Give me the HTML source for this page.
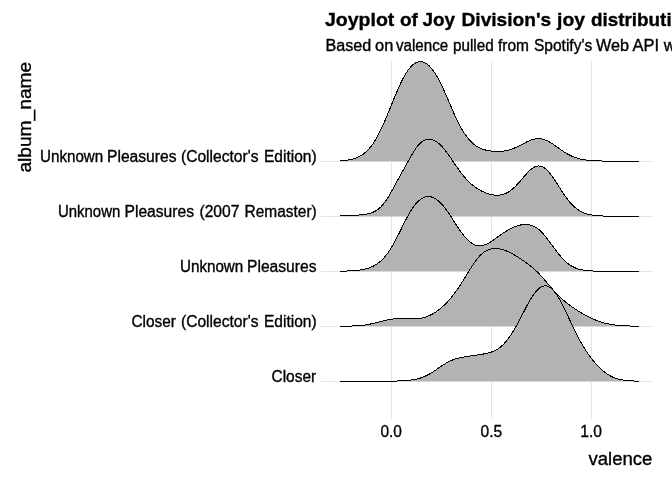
<!DOCTYPE html>
<html><head><meta charset="utf-8"><title>Joyplot</title>
<style>html,body{margin:0;padding:0;background:#fff;overflow:hidden}svg text{white-space:pre}</style></head>
<body>
<svg width="672" height="480" viewBox="0 0 672 480" style="display:block">
<rect width="672" height="480" fill="#fff"/>
<line x1="391.5" x2="391.5" y1="61" y2="418.75" stroke="#e4e4e4" stroke-width="1"/>
<line x1="491.5" x2="491.5" y1="61" y2="418.75" stroke="#e4e4e4" stroke-width="1"/>
<line x1="591.5" x2="591.5" y1="61" y2="418.75" stroke="#e4e4e4" stroke-width="1"/>
<line x1="321" x2="653" y1="161.5" y2="161.5" stroke="#e4e4e4" stroke-width="1"/>
<line x1="321" x2="653" y1="216.5" y2="216.5" stroke="#e4e4e4" stroke-width="1"/>
<line x1="321" x2="653" y1="271.5" y2="271.5" stroke="#e4e4e4" stroke-width="1"/>
<line x1="321" x2="653" y1="326.5" y2="326.5" stroke="#e4e4e4" stroke-width="1"/>
<line x1="321" x2="653" y1="381.5" y2="381.5" stroke="#e4e4e4" stroke-width="1"/>
<polygon points="340.2,161.25 340.2,160.74 341.2,160.68 342.2,160.60 343.2,160.52 344.2,160.43 345.2,160.33 346.2,160.21 347.2,160.08 348.2,159.93 349.2,159.76 350.2,159.57 351.2,159.36 352.2,159.13 353.2,158.86 354.2,158.57 355.2,158.25 356.2,157.89 357.2,157.49 358.2,157.05 359.2,156.57 360.2,156.04 361.2,155.46 362.2,154.82 363.2,154.13 364.2,153.38 365.2,152.56 366.2,151.68 367.2,150.73 368.2,149.71 369.2,148.61 370.2,147.43 371.2,146.18 372.2,144.84 373.2,143.43 374.2,141.93 375.2,140.35 376.2,138.68 377.2,136.94 378.1,135.11 379.1,133.20 380.1,131.22 381.1,129.17 382.1,127.05 383.1,124.86 384.1,122.61 385.1,120.31 386.1,117.97 387.1,115.58 388.1,113.16 389.1,110.71 390.1,108.24 391.1,105.77 392.1,103.29 393.1,100.82 394.1,98.37 395.1,95.95 396.1,93.55 397.1,91.20 398.1,88.90 399.1,86.66 400.1,84.48 401.1,82.37 402.1,80.35 403.1,78.41 404.1,76.56 405.1,74.80 406.1,73.15 407.1,71.60 408.1,70.15 409.1,68.81 410.1,67.59 411.1,66.48 412.1,65.48 413.1,64.60 414.1,63.83 415.1,63.17 416.1,62.63 417.1,62.21 418.1,61.90 419.1,61.70 420.1,61.61 421.1,61.64 422.1,61.78 423.1,62.03 424.1,62.39 425.1,62.86 426.1,63.44 427.1,64.12 428.1,64.92 429.1,65.82 430.1,66.82 431.1,67.94 432.1,69.15 433.1,70.47 434.1,71.88 435.1,73.39 436.1,75.00 437.1,76.69 438.1,78.47 439.1,80.33 440.1,82.27 441.1,84.28 442.1,86.35 443.1,88.48 444.1,90.66 445.1,92.88 446.1,95.14 447.1,97.43 448.1,99.73 449.1,102.04 450.1,104.35 451.1,106.66 452.1,108.95 453.0,111.21 454.0,113.45 455.0,115.64 456.0,117.79 457.0,119.89 458.0,121.93 459.0,123.90 460.0,125.81 461.0,127.64 462.0,129.40 463.0,131.08 464.0,132.68 465.0,134.20 466.0,135.64 467.0,137.00 468.0,138.27 469.0,139.47 470.0,140.59 471.0,141.63 472.0,142.60 473.0,143.49 474.0,144.32 475.0,145.09 476.0,145.79 477.0,146.43 478.0,147.02 479.0,147.56 480.0,148.04 481.0,148.49 482.0,148.89 483.0,149.25 484.0,149.58 485.0,149.87 486.0,150.14 487.0,150.37 488.0,150.58 489.0,150.76 490.0,150.92 491.0,151.06 492.0,151.18 493.0,151.27 494.0,151.35 495.0,151.40 496.0,151.44 497.0,151.45 498.0,151.45 499.0,151.42 500.0,151.37 501.0,151.31 502.0,151.22 503.0,151.10 504.0,150.97 505.0,150.80 506.0,150.62 507.0,150.41 508.0,150.17 509.0,149.90 510.0,149.61 511.0,149.29 512.0,148.95 513.0,148.58 514.0,148.19 515.0,147.77 516.0,147.33 517.0,146.88 518.0,146.40 519.0,145.91 520.0,145.41 521.0,144.89 522.0,144.37 523.0,143.85 524.0,143.34 525.0,142.82 526.0,142.32 526.9,141.83 527.9,141.37 528.9,140.92 529.9,140.50 530.9,140.12 531.9,139.77 532.9,139.47 533.9,139.20 534.9,138.99 535.9,138.82 536.9,138.71 537.9,138.65 538.9,138.65 539.9,138.71 540.9,138.82 541.9,138.99 542.9,139.21 543.9,139.50 544.9,139.83 545.9,140.22 546.9,140.66 547.9,141.14 548.9,141.67 549.9,142.23 550.9,142.83 551.9,143.46 552.9,144.11 553.9,144.79 554.9,145.48 555.9,146.19 556.9,146.90 557.9,147.62 558.9,148.33 559.9,149.05 560.9,149.75 561.9,150.44 562.9,151.12 563.9,151.78 564.9,152.42 565.9,153.04 566.9,153.63 567.9,154.20 568.9,154.74 569.9,155.25 570.9,155.74 571.9,156.20 572.9,156.63 573.9,157.03 574.9,157.40 575.9,157.75 576.9,158.08 577.9,158.37 578.9,158.65 579.9,158.90 580.9,159.13 581.9,159.34 582.9,159.53 583.9,159.70 584.9,159.85 585.9,160.00 586.9,160.12 587.9,160.24 588.9,160.34 589.9,160.43 590.9,160.51 591.9,160.59 592.9,160.65 593.9,160.71 594.9,160.76 595.9,160.81 596.9,160.85 597.9,160.88 598.9,160.92 599.9,160.95 600.9,160.97 601.8,161.00 602.8,161.02 603.8,161.04 604.8,161.05 605.8,161.07 606.8,161.08 607.8,161.09 608.8,161.11 609.8,161.12 610.8,161.13 611.8,161.14 612.8,161.14 613.8,161.15 614.8,161.16 615.8,161.16 616.8,161.17 617.8,161.18 618.8,161.18 619.8,161.19 620.8,161.19 621.8,161.19 622.8,161.20 623.8,161.20 624.8,161.20 625.8,161.21 626.8,161.21 627.8,161.21 628.8,161.22 629.8,161.22 630.8,161.22 631.8,161.22 632.8,161.22 633.8,161.23 634.8,161.23 635.8,161.23 636.8,161.23 637.8,161.23 638.8,161.23 638.8,161.25" fill="#b3b3b3"/>
<polyline points="340.2,160.74 341.2,160.68 342.2,160.60 343.2,160.52 344.2,160.43 345.2,160.33 346.2,160.21 347.2,160.08 348.2,159.93 349.2,159.76 350.2,159.57 351.2,159.36 352.2,159.13 353.2,158.86 354.2,158.57 355.2,158.25 356.2,157.89 357.2,157.49 358.2,157.05 359.2,156.57 360.2,156.04 361.2,155.46 362.2,154.82 363.2,154.13 364.2,153.38 365.2,152.56 366.2,151.68 367.2,150.73 368.2,149.71 369.2,148.61 370.2,147.43 371.2,146.18 372.2,144.84 373.2,143.43 374.2,141.93 375.2,140.35 376.2,138.68 377.2,136.94 378.1,135.11 379.1,133.20 380.1,131.22 381.1,129.17 382.1,127.05 383.1,124.86 384.1,122.61 385.1,120.31 386.1,117.97 387.1,115.58 388.1,113.16 389.1,110.71 390.1,108.24 391.1,105.77 392.1,103.29 393.1,100.82 394.1,98.37 395.1,95.95 396.1,93.55 397.1,91.20 398.1,88.90 399.1,86.66 400.1,84.48 401.1,82.37 402.1,80.35 403.1,78.41 404.1,76.56 405.1,74.80 406.1,73.15 407.1,71.60 408.1,70.15 409.1,68.81 410.1,67.59 411.1,66.48 412.1,65.48 413.1,64.60 414.1,63.83 415.1,63.17 416.1,62.63 417.1,62.21 418.1,61.90 419.1,61.70 420.1,61.61 421.1,61.64 422.1,61.78 423.1,62.03 424.1,62.39 425.1,62.86 426.1,63.44 427.1,64.12 428.1,64.92 429.1,65.82 430.1,66.82 431.1,67.94 432.1,69.15 433.1,70.47 434.1,71.88 435.1,73.39 436.1,75.00 437.1,76.69 438.1,78.47 439.1,80.33 440.1,82.27 441.1,84.28 442.1,86.35 443.1,88.48 444.1,90.66 445.1,92.88 446.1,95.14 447.1,97.43 448.1,99.73 449.1,102.04 450.1,104.35 451.1,106.66 452.1,108.95 453.0,111.21 454.0,113.45 455.0,115.64 456.0,117.79 457.0,119.89 458.0,121.93 459.0,123.90 460.0,125.81 461.0,127.64 462.0,129.40 463.0,131.08 464.0,132.68 465.0,134.20 466.0,135.64 467.0,137.00 468.0,138.27 469.0,139.47 470.0,140.59 471.0,141.63 472.0,142.60 473.0,143.49 474.0,144.32 475.0,145.09 476.0,145.79 477.0,146.43 478.0,147.02 479.0,147.56 480.0,148.04 481.0,148.49 482.0,148.89 483.0,149.25 484.0,149.58 485.0,149.87 486.0,150.14 487.0,150.37 488.0,150.58 489.0,150.76 490.0,150.92 491.0,151.06 492.0,151.18 493.0,151.27 494.0,151.35 495.0,151.40 496.0,151.44 497.0,151.45 498.0,151.45 499.0,151.42 500.0,151.37 501.0,151.31 502.0,151.22 503.0,151.10 504.0,150.97 505.0,150.80 506.0,150.62 507.0,150.41 508.0,150.17 509.0,149.90 510.0,149.61 511.0,149.29 512.0,148.95 513.0,148.58 514.0,148.19 515.0,147.77 516.0,147.33 517.0,146.88 518.0,146.40 519.0,145.91 520.0,145.41 521.0,144.89 522.0,144.37 523.0,143.85 524.0,143.34 525.0,142.82 526.0,142.32 526.9,141.83 527.9,141.37 528.9,140.92 529.9,140.50 530.9,140.12 531.9,139.77 532.9,139.47 533.9,139.20 534.9,138.99 535.9,138.82 536.9,138.71 537.9,138.65 538.9,138.65 539.9,138.71 540.9,138.82 541.9,138.99 542.9,139.21 543.9,139.50 544.9,139.83 545.9,140.22 546.9,140.66 547.9,141.14 548.9,141.67 549.9,142.23 550.9,142.83 551.9,143.46 552.9,144.11 553.9,144.79 554.9,145.48 555.9,146.19 556.9,146.90 557.9,147.62 558.9,148.33 559.9,149.05 560.9,149.75 561.9,150.44 562.9,151.12 563.9,151.78 564.9,152.42 565.9,153.04 566.9,153.63 567.9,154.20 568.9,154.74 569.9,155.25 570.9,155.74 571.9,156.20 572.9,156.63 573.9,157.03 574.9,157.40 575.9,157.75 576.9,158.08 577.9,158.37 578.9,158.65 579.9,158.90 580.9,159.13 581.9,159.34 582.9,159.53 583.9,159.70 584.9,159.85 585.9,160.00 586.9,160.12 587.9,160.24 588.9,160.34 589.9,160.43 590.9,160.51 591.9,160.59 592.9,160.65 593.9,160.71 594.9,160.76 595.9,160.81 596.9,160.85 597.9,160.88 598.9,160.92 599.9,160.95 600.9,160.97 601.8,161.00 602.8,161.02 603.8,161.04 604.8,161.05 605.8,161.07 606.8,161.08 607.8,161.09 608.8,161.11 609.8,161.12 610.8,161.13 611.8,161.14 612.8,161.14 613.8,161.15 614.8,161.16 615.8,161.16 616.8,161.17 617.8,161.18 618.8,161.18 619.8,161.19 620.8,161.19 621.8,161.19 622.8,161.20 623.8,161.20 624.8,161.20 625.8,161.21 626.8,161.21 627.8,161.21 628.8,161.22 629.8,161.22 630.8,161.22 631.8,161.22 632.8,161.22 633.8,161.23 634.8,161.23 635.8,161.23 636.8,161.23 637.8,161.23 638.8,161.23" fill="none" stroke="#000" stroke-width="1" stroke-linejoin="round" shape-rendering="crispEdges"/>
<polygon points="340.2,216.25 340.2,215.92 341.2,215.90 342.2,215.87 343.2,215.84 344.2,215.81 345.2,215.78 346.2,215.75 347.2,215.71 348.2,215.67 349.2,215.63 350.2,215.59 351.2,215.54 352.2,215.49 353.2,215.43 354.2,215.37 355.2,215.31 356.2,215.24 357.2,215.16 358.2,215.08 359.2,214.99 360.2,214.89 361.2,214.79 362.2,214.67 363.2,214.55 364.2,214.41 365.2,214.25 366.2,214.08 367.2,213.89 368.2,213.67 369.2,213.43 370.2,213.16 371.2,212.86 372.2,212.51 373.2,212.12 374.2,211.68 375.2,211.18 376.2,210.62 377.2,209.98 378.1,209.28 379.1,208.49 380.1,207.61 381.1,206.64 382.1,205.58 383.1,204.42 384.1,203.17 385.1,201.83 386.1,200.39 387.1,198.88 388.1,197.28 389.1,195.62 390.1,193.91 391.1,192.15 392.1,190.35 393.1,188.53 394.1,186.70 395.1,184.86 396.1,183.02 397.1,181.18 398.1,179.36 399.1,177.54 400.1,175.74 401.1,173.94 402.1,172.15 403.1,170.36 404.1,168.57 405.1,166.78 406.1,164.98 407.1,163.18 408.1,161.38 409.1,159.59 410.1,157.81 411.1,156.06 412.1,154.34 413.1,152.67 414.1,151.07 415.1,149.53 416.1,148.08 417.1,146.73 418.1,145.48 419.1,144.34 420.1,143.31 421.1,142.41 422.1,141.63 423.1,140.96 424.1,140.41 425.1,139.98 426.1,139.65 427.1,139.43 428.1,139.30 429.1,139.28 430.1,139.34 431.1,139.50 432.1,139.74 433.1,140.07 434.1,140.49 435.1,140.98 436.1,141.56 437.1,142.22 438.1,142.97 439.1,143.78 440.1,144.68 441.1,145.65 442.1,146.69 443.1,147.80 444.1,148.98 445.1,150.21 446.1,151.49 447.1,152.82 448.1,154.19 449.1,155.59 450.1,157.02 451.1,158.47 452.1,159.94 453.0,161.41 454.0,162.88 455.0,164.35 456.0,165.80 457.0,167.24 458.0,168.66 459.0,170.05 460.0,171.41 461.0,172.74 462.0,174.03 463.0,175.29 464.0,176.50 465.0,177.67 466.0,178.80 467.0,179.89 468.0,180.93 469.0,181.92 470.0,182.87 471.0,183.78 472.0,184.65 473.0,185.47 474.0,186.26 475.0,187.00 476.0,187.71 477.0,188.38 478.0,189.02 479.0,189.62 480.0,190.19 481.0,190.72 482.0,191.23 483.0,191.71 484.0,192.16 485.0,192.58 486.0,192.97 487.0,193.33 488.0,193.66 489.0,193.96 490.0,194.24 491.0,194.48 492.0,194.69 493.0,194.87 494.0,195.02 495.0,195.12 496.0,195.19 497.0,195.22 498.0,195.21 499.0,195.15 500.0,195.04 501.0,194.89 502.0,194.68 503.0,194.42 504.0,194.11 505.0,193.73 506.0,193.30 507.0,192.81 508.0,192.26 509.0,191.65 510.0,190.97 511.0,190.24 512.0,189.45 513.0,188.60 514.0,187.69 515.0,186.74 516.0,185.73 517.0,184.69 518.0,183.60 519.0,182.48 520.0,181.34 521.0,180.18 522.0,179.01 523.0,177.83 524.0,176.66 525.0,175.51 526.0,174.38 526.9,173.29 527.9,172.23 528.9,171.23 529.9,170.30 530.9,169.43 531.9,168.64 532.9,167.94 533.9,167.34 534.9,166.84 535.9,166.45 536.9,166.17 537.9,166.00 538.9,165.96 539.9,166.05 540.9,166.25 541.9,166.58 542.9,167.04 543.9,167.61 544.9,168.30 545.9,169.11 546.9,170.02 547.9,171.04 548.9,172.14 549.9,173.34 550.9,174.62 551.9,175.96 552.9,177.37 553.9,178.83 554.9,180.33 555.9,181.87 556.9,183.42 557.9,185.00 558.9,186.57 559.9,188.15 560.9,189.71 561.9,191.26 562.9,192.78 563.9,194.26 564.9,195.71 565.9,197.11 566.9,198.47 567.9,199.78 568.9,201.03 569.9,202.22 570.9,203.35 571.9,204.42 572.9,205.44 573.9,206.39 574.9,207.28 575.9,208.11 576.9,208.89 577.9,209.60 578.9,210.27 579.9,210.88 580.9,211.44 581.9,211.95 582.9,212.41 583.9,212.84 584.9,213.22 585.9,213.57 586.9,213.88 587.9,214.16 588.9,214.41 589.9,214.64 590.9,214.83 591.9,215.01 592.9,215.17 593.9,215.31 594.9,215.43 595.9,215.54 596.9,215.63 597.9,215.71 598.9,215.78 599.9,215.84 600.9,215.90 601.8,215.95 602.8,215.99 603.8,216.02 604.8,216.05 605.8,216.08 606.8,216.10 607.8,216.12 608.8,216.14 609.8,216.15 610.8,216.16 611.8,216.17 612.8,216.18 613.8,216.19 614.8,216.20 615.8,216.21 616.8,216.21 617.8,216.21 618.8,216.22 619.8,216.22 620.8,216.23 621.8,216.23 622.8,216.23 623.8,216.23 624.8,216.23 625.8,216.24 626.8,216.24 627.8,216.24 628.8,216.24 629.8,216.24 630.8,216.24 631.8,216.24 632.8,216.24 633.8,216.24 634.8,216.24 635.8,216.24 636.8,216.25 637.8,216.25 638.8,216.25 638.8,216.25" fill="#b3b3b3"/>
<polyline points="340.2,215.92 341.2,215.90 342.2,215.87 343.2,215.84 344.2,215.81 345.2,215.78 346.2,215.75 347.2,215.71 348.2,215.67 349.2,215.63 350.2,215.59 351.2,215.54 352.2,215.49 353.2,215.43 354.2,215.37 355.2,215.31 356.2,215.24 357.2,215.16 358.2,215.08 359.2,214.99 360.2,214.89 361.2,214.79 362.2,214.67 363.2,214.55 364.2,214.41 365.2,214.25 366.2,214.08 367.2,213.89 368.2,213.67 369.2,213.43 370.2,213.16 371.2,212.86 372.2,212.51 373.2,212.12 374.2,211.68 375.2,211.18 376.2,210.62 377.2,209.98 378.1,209.28 379.1,208.49 380.1,207.61 381.1,206.64 382.1,205.58 383.1,204.42 384.1,203.17 385.1,201.83 386.1,200.39 387.1,198.88 388.1,197.28 389.1,195.62 390.1,193.91 391.1,192.15 392.1,190.35 393.1,188.53 394.1,186.70 395.1,184.86 396.1,183.02 397.1,181.18 398.1,179.36 399.1,177.54 400.1,175.74 401.1,173.94 402.1,172.15 403.1,170.36 404.1,168.57 405.1,166.78 406.1,164.98 407.1,163.18 408.1,161.38 409.1,159.59 410.1,157.81 411.1,156.06 412.1,154.34 413.1,152.67 414.1,151.07 415.1,149.53 416.1,148.08 417.1,146.73 418.1,145.48 419.1,144.34 420.1,143.31 421.1,142.41 422.1,141.63 423.1,140.96 424.1,140.41 425.1,139.98 426.1,139.65 427.1,139.43 428.1,139.30 429.1,139.28 430.1,139.34 431.1,139.50 432.1,139.74 433.1,140.07 434.1,140.49 435.1,140.98 436.1,141.56 437.1,142.22 438.1,142.97 439.1,143.78 440.1,144.68 441.1,145.65 442.1,146.69 443.1,147.80 444.1,148.98 445.1,150.21 446.1,151.49 447.1,152.82 448.1,154.19 449.1,155.59 450.1,157.02 451.1,158.47 452.1,159.94 453.0,161.41 454.0,162.88 455.0,164.35 456.0,165.80 457.0,167.24 458.0,168.66 459.0,170.05 460.0,171.41 461.0,172.74 462.0,174.03 463.0,175.29 464.0,176.50 465.0,177.67 466.0,178.80 467.0,179.89 468.0,180.93 469.0,181.92 470.0,182.87 471.0,183.78 472.0,184.65 473.0,185.47 474.0,186.26 475.0,187.00 476.0,187.71 477.0,188.38 478.0,189.02 479.0,189.62 480.0,190.19 481.0,190.72 482.0,191.23 483.0,191.71 484.0,192.16 485.0,192.58 486.0,192.97 487.0,193.33 488.0,193.66 489.0,193.96 490.0,194.24 491.0,194.48 492.0,194.69 493.0,194.87 494.0,195.02 495.0,195.12 496.0,195.19 497.0,195.22 498.0,195.21 499.0,195.15 500.0,195.04 501.0,194.89 502.0,194.68 503.0,194.42 504.0,194.11 505.0,193.73 506.0,193.30 507.0,192.81 508.0,192.26 509.0,191.65 510.0,190.97 511.0,190.24 512.0,189.45 513.0,188.60 514.0,187.69 515.0,186.74 516.0,185.73 517.0,184.69 518.0,183.60 519.0,182.48 520.0,181.34 521.0,180.18 522.0,179.01 523.0,177.83 524.0,176.66 525.0,175.51 526.0,174.38 526.9,173.29 527.9,172.23 528.9,171.23 529.9,170.30 530.9,169.43 531.9,168.64 532.9,167.94 533.9,167.34 534.9,166.84 535.9,166.45 536.9,166.17 537.9,166.00 538.9,165.96 539.9,166.05 540.9,166.25 541.9,166.58 542.9,167.04 543.9,167.61 544.9,168.30 545.9,169.11 546.9,170.02 547.9,171.04 548.9,172.14 549.9,173.34 550.9,174.62 551.9,175.96 552.9,177.37 553.9,178.83 554.9,180.33 555.9,181.87 556.9,183.42 557.9,185.00 558.9,186.57 559.9,188.15 560.9,189.71 561.9,191.26 562.9,192.78 563.9,194.26 564.9,195.71 565.9,197.11 566.9,198.47 567.9,199.78 568.9,201.03 569.9,202.22 570.9,203.35 571.9,204.42 572.9,205.44 573.9,206.39 574.9,207.28 575.9,208.11 576.9,208.89 577.9,209.60 578.9,210.27 579.9,210.88 580.9,211.44 581.9,211.95 582.9,212.41 583.9,212.84 584.9,213.22 585.9,213.57 586.9,213.88 587.9,214.16 588.9,214.41 589.9,214.64 590.9,214.83 591.9,215.01 592.9,215.17 593.9,215.31 594.9,215.43 595.9,215.54 596.9,215.63 597.9,215.71 598.9,215.78 599.9,215.84 600.9,215.90 601.8,215.95 602.8,215.99 603.8,216.02 604.8,216.05 605.8,216.08 606.8,216.10 607.8,216.12 608.8,216.14 609.8,216.15 610.8,216.16 611.8,216.17 612.8,216.18 613.8,216.19 614.8,216.20 615.8,216.21 616.8,216.21 617.8,216.21 618.8,216.22 619.8,216.22 620.8,216.23 621.8,216.23 622.8,216.23 623.8,216.23 624.8,216.23 625.8,216.24 626.8,216.24 627.8,216.24 628.8,216.24 629.8,216.24 630.8,216.24 631.8,216.24 632.8,216.24 633.8,216.24 634.8,216.24 635.8,216.24 636.8,216.25 637.8,216.25 638.8,216.25" fill="none" stroke="#000" stroke-width="1" stroke-linejoin="round" shape-rendering="crispEdges"/>
<polygon points="340.2,271.25 340.2,271.15 341.2,271.13 342.2,271.11 343.2,271.09 344.2,271.07 345.2,271.04 346.2,271.02 347.2,270.98 348.2,270.94 349.2,270.90 350.2,270.85 351.2,270.80 352.2,270.74 353.2,270.67 354.2,270.60 355.2,270.52 356.2,270.42 357.2,270.32 358.2,270.20 359.2,270.08 360.2,269.93 361.2,269.78 362.2,269.61 363.2,269.42 364.2,269.21 365.2,268.98 366.2,268.72 367.2,268.45 368.2,268.14 369.2,267.81 370.2,267.45 371.2,267.05 372.2,266.62 373.2,266.15 374.2,265.63 375.2,265.08 376.2,264.48 377.2,263.82 378.1,263.12 379.1,262.36 380.1,261.54 381.1,260.65 382.1,259.71 383.1,258.69 384.1,257.61 385.1,256.46 386.1,255.23 387.1,253.93 388.1,252.56 389.1,251.12 390.1,249.60 391.1,248.01 392.1,246.35 393.1,244.63 394.1,242.84 395.1,241.01 396.1,239.12 397.1,237.19 398.1,235.22 399.1,233.22 400.1,231.21 401.1,229.19 402.1,227.16 403.1,225.15 404.1,223.15 405.1,221.18 406.1,219.25 407.1,217.36 408.1,215.53 409.1,213.76 410.1,212.06 411.1,210.43 412.1,208.88 413.1,207.41 414.1,206.04 415.1,204.75 416.1,203.56 417.1,202.46 418.1,201.45 419.1,200.54 420.1,199.73 421.1,199.01 422.1,198.39 423.1,197.86 424.1,197.42 425.1,197.07 426.1,196.82 427.1,196.66 428.1,196.58 429.1,196.60 430.1,196.70 431.1,196.89 432.1,197.17 433.1,197.54 434.1,197.99 435.1,198.52 436.1,199.14 437.1,199.84 438.1,200.63 439.1,201.49 440.1,202.43 441.1,203.44 442.1,204.52 443.1,205.68 444.1,206.89 445.1,208.16 446.1,209.49 447.1,210.86 448.1,212.28 449.1,213.74 450.1,215.23 451.1,216.74 452.1,218.27 453.0,219.82 454.0,221.37 455.0,222.92 456.0,224.46 457.0,225.99 458.0,227.50 459.0,228.98 460.0,230.43 461.0,231.83 462.0,233.20 463.0,234.51 464.0,235.77 465.0,236.97 466.0,238.11 467.0,239.17 468.0,240.17 469.0,241.09 470.0,241.93 471.0,242.69 472.0,243.37 473.0,243.96 474.0,244.48 475.0,244.90 476.0,245.25 477.0,245.51 478.0,245.68 479.0,245.78 480.0,245.80 481.0,245.73 482.0,245.60 483.0,245.39 484.0,245.12 485.0,244.79 486.0,244.39 487.0,243.94 488.0,243.44 489.0,242.90 490.0,242.31 491.0,241.69 492.0,241.04 493.0,240.36 494.0,239.66 495.0,238.95 496.0,238.22 497.0,237.49 498.0,236.76 499.0,236.03 500.0,235.30 501.0,234.58 502.0,233.88 503.0,233.19 504.0,232.52 505.0,231.87 506.0,231.23 507.0,230.63 508.0,230.04 509.0,229.48 510.0,228.94 511.0,228.44 512.0,227.95 513.0,227.50 514.0,227.07 515.0,226.67 516.0,226.30 517.0,225.96 518.0,225.65 519.0,225.36 520.0,225.12 521.0,224.90 522.0,224.72 523.0,224.58 524.0,224.48 525.0,224.42 526.0,224.41 526.9,224.45 527.9,224.53 528.9,224.68 529.9,224.88 530.9,225.14 531.9,225.46 532.9,225.85 533.9,226.30 534.9,226.82 535.9,227.42 536.9,228.08 537.9,228.82 538.9,229.62 539.9,230.50 540.9,231.44 541.9,232.44 542.9,233.51 543.9,234.63 544.9,235.80 545.9,237.02 546.9,238.28 547.9,239.58 548.9,240.91 549.9,242.26 550.9,243.62 551.9,245.00 552.9,246.37 553.9,247.74 554.9,249.10 555.9,250.44 556.9,251.76 557.9,253.05 558.9,254.30 559.9,255.52 560.9,256.69 561.9,257.82 562.9,258.90 563.9,259.93 564.9,260.90 565.9,261.82 566.9,262.69 567.9,263.50 568.9,264.26 569.9,264.96 570.9,265.61 571.9,266.21 572.9,266.76 573.9,267.27 574.9,267.72 575.9,268.14 576.9,268.52 577.9,268.85 578.9,269.16 579.9,269.43 580.9,269.67 581.9,269.88 582.9,270.07 583.9,270.24 584.9,270.38 585.9,270.51 586.9,270.62 587.9,270.72 588.9,270.80 589.9,270.87 590.9,270.93 591.9,270.98 592.9,271.03 593.9,271.07 594.9,271.10 595.9,271.12 596.9,271.15 597.9,271.16 598.9,271.18 599.9,271.19 600.9,271.20 601.8,271.21 602.8,271.22 603.8,271.23 604.8,271.23 605.8,271.23 606.8,271.24 607.8,271.24 608.8,271.24 609.8,271.24 610.8,271.25 611.8,271.25 612.8,271.25 613.8,271.25 614.8,271.25 615.8,271.25 616.8,271.25 617.8,271.25 618.8,271.25 619.8,271.25 620.8,271.25 621.8,271.25 622.8,271.25 623.8,271.25 624.8,271.25 625.8,271.25 626.8,271.25 627.8,271.25 628.8,271.25 629.8,271.25 630.8,271.25 631.8,271.25 632.8,271.25 633.8,271.25 634.8,271.25 635.8,271.25 636.8,271.25 637.8,271.25 638.8,271.25 638.8,271.25" fill="#b3b3b3"/>
<polyline points="340.2,271.15 341.2,271.13 342.2,271.11 343.2,271.09 344.2,271.07 345.2,271.04 346.2,271.02 347.2,270.98 348.2,270.94 349.2,270.90 350.2,270.85 351.2,270.80 352.2,270.74 353.2,270.67 354.2,270.60 355.2,270.52 356.2,270.42 357.2,270.32 358.2,270.20 359.2,270.08 360.2,269.93 361.2,269.78 362.2,269.61 363.2,269.42 364.2,269.21 365.2,268.98 366.2,268.72 367.2,268.45 368.2,268.14 369.2,267.81 370.2,267.45 371.2,267.05 372.2,266.62 373.2,266.15 374.2,265.63 375.2,265.08 376.2,264.48 377.2,263.82 378.1,263.12 379.1,262.36 380.1,261.54 381.1,260.65 382.1,259.71 383.1,258.69 384.1,257.61 385.1,256.46 386.1,255.23 387.1,253.93 388.1,252.56 389.1,251.12 390.1,249.60 391.1,248.01 392.1,246.35 393.1,244.63 394.1,242.84 395.1,241.01 396.1,239.12 397.1,237.19 398.1,235.22 399.1,233.22 400.1,231.21 401.1,229.19 402.1,227.16 403.1,225.15 404.1,223.15 405.1,221.18 406.1,219.25 407.1,217.36 408.1,215.53 409.1,213.76 410.1,212.06 411.1,210.43 412.1,208.88 413.1,207.41 414.1,206.04 415.1,204.75 416.1,203.56 417.1,202.46 418.1,201.45 419.1,200.54 420.1,199.73 421.1,199.01 422.1,198.39 423.1,197.86 424.1,197.42 425.1,197.07 426.1,196.82 427.1,196.66 428.1,196.58 429.1,196.60 430.1,196.70 431.1,196.89 432.1,197.17 433.1,197.54 434.1,197.99 435.1,198.52 436.1,199.14 437.1,199.84 438.1,200.63 439.1,201.49 440.1,202.43 441.1,203.44 442.1,204.52 443.1,205.68 444.1,206.89 445.1,208.16 446.1,209.49 447.1,210.86 448.1,212.28 449.1,213.74 450.1,215.23 451.1,216.74 452.1,218.27 453.0,219.82 454.0,221.37 455.0,222.92 456.0,224.46 457.0,225.99 458.0,227.50 459.0,228.98 460.0,230.43 461.0,231.83 462.0,233.20 463.0,234.51 464.0,235.77 465.0,236.97 466.0,238.11 467.0,239.17 468.0,240.17 469.0,241.09 470.0,241.93 471.0,242.69 472.0,243.37 473.0,243.96 474.0,244.48 475.0,244.90 476.0,245.25 477.0,245.51 478.0,245.68 479.0,245.78 480.0,245.80 481.0,245.73 482.0,245.60 483.0,245.39 484.0,245.12 485.0,244.79 486.0,244.39 487.0,243.94 488.0,243.44 489.0,242.90 490.0,242.31 491.0,241.69 492.0,241.04 493.0,240.36 494.0,239.66 495.0,238.95 496.0,238.22 497.0,237.49 498.0,236.76 499.0,236.03 500.0,235.30 501.0,234.58 502.0,233.88 503.0,233.19 504.0,232.52 505.0,231.87 506.0,231.23 507.0,230.63 508.0,230.04 509.0,229.48 510.0,228.94 511.0,228.44 512.0,227.95 513.0,227.50 514.0,227.07 515.0,226.67 516.0,226.30 517.0,225.96 518.0,225.65 519.0,225.36 520.0,225.12 521.0,224.90 522.0,224.72 523.0,224.58 524.0,224.48 525.0,224.42 526.0,224.41 526.9,224.45 527.9,224.53 528.9,224.68 529.9,224.88 530.9,225.14 531.9,225.46 532.9,225.85 533.9,226.30 534.9,226.82 535.9,227.42 536.9,228.08 537.9,228.82 538.9,229.62 539.9,230.50 540.9,231.44 541.9,232.44 542.9,233.51 543.9,234.63 544.9,235.80 545.9,237.02 546.9,238.28 547.9,239.58 548.9,240.91 549.9,242.26 550.9,243.62 551.9,245.00 552.9,246.37 553.9,247.74 554.9,249.10 555.9,250.44 556.9,251.76 557.9,253.05 558.9,254.30 559.9,255.52 560.9,256.69 561.9,257.82 562.9,258.90 563.9,259.93 564.9,260.90 565.9,261.82 566.9,262.69 567.9,263.50 568.9,264.26 569.9,264.96 570.9,265.61 571.9,266.21 572.9,266.76 573.9,267.27 574.9,267.72 575.9,268.14 576.9,268.52 577.9,268.85 578.9,269.16 579.9,269.43 580.9,269.67 581.9,269.88 582.9,270.07 583.9,270.24 584.9,270.38 585.9,270.51 586.9,270.62 587.9,270.72 588.9,270.80 589.9,270.87 590.9,270.93 591.9,270.98 592.9,271.03 593.9,271.07 594.9,271.10 595.9,271.12 596.9,271.15 597.9,271.16 598.9,271.18 599.9,271.19 600.9,271.20 601.8,271.21 602.8,271.22 603.8,271.23 604.8,271.23 605.8,271.23 606.8,271.24 607.8,271.24 608.8,271.24 609.8,271.24 610.8,271.25 611.8,271.25 612.8,271.25 613.8,271.25 614.8,271.25 615.8,271.25 616.8,271.25 617.8,271.25 618.8,271.25 619.8,271.25 620.8,271.25 621.8,271.25 622.8,271.25 623.8,271.25 624.8,271.25 625.8,271.25 626.8,271.25 627.8,271.25 628.8,271.25 629.8,271.25 630.8,271.25 631.8,271.25 632.8,271.25 633.8,271.25 634.8,271.25 635.8,271.25 636.8,271.25 637.8,271.25 638.8,271.25" fill="none" stroke="#000" stroke-width="1" stroke-linejoin="round" shape-rendering="crispEdges"/>
<polygon points="340.2,326.25 340.2,326.22 341.2,326.21 342.2,326.20 343.2,326.20 344.2,326.18 345.2,326.17 346.2,326.16 347.2,326.14 348.2,326.12 349.2,326.10 350.2,326.07 351.2,326.04 352.2,326.01 353.2,325.97 354.2,325.92 355.2,325.87 356.2,325.81 357.2,325.75 358.2,325.68 359.2,325.60 360.2,325.51 361.2,325.41 362.2,325.30 363.2,325.19 364.2,325.06 365.2,324.92 366.2,324.77 367.2,324.61 368.2,324.44 369.2,324.26 370.2,324.07 371.2,323.87 372.2,323.65 373.2,323.43 374.2,323.20 375.2,322.96 376.2,322.72 377.2,322.47 378.1,322.21 379.1,321.96 380.1,321.70 381.1,321.44 382.1,321.18 383.1,320.93 384.1,320.68 385.1,320.45 386.1,320.22 387.1,320.00 388.1,319.79 389.1,319.59 390.1,319.41 391.1,319.25 392.1,319.10 393.1,318.98 394.1,318.86 395.1,318.77 396.1,318.69 397.1,318.64 398.1,318.59 399.1,318.57 400.1,318.56 401.1,318.56 402.1,318.57 403.1,318.60 404.1,318.63 405.1,318.67 406.1,318.71 407.1,318.75 408.1,318.80 409.1,318.84 410.1,318.87 411.1,318.89 412.1,318.91 413.1,318.91 414.1,318.89 415.1,318.86 416.1,318.81 417.1,318.74 418.1,318.64 419.1,318.52 420.1,318.37 421.1,318.20 422.1,317.99 423.1,317.76 424.1,317.49 425.1,317.20 426.1,316.87 427.1,316.51 428.1,316.11 429.1,315.69 430.1,315.23 431.1,314.73 432.1,314.20 433.1,313.64 434.1,313.05 435.1,312.42 436.1,311.76 437.1,311.06 438.1,310.33 439.1,309.57 440.1,308.77 441.1,307.94 442.1,307.07 443.1,306.17 444.1,305.24 445.1,304.27 446.1,303.27 447.1,302.23 448.1,301.16 449.1,300.04 450.1,298.90 451.1,297.71 452.1,296.49 453.0,295.23 454.0,293.94 455.0,292.61 456.0,291.24 457.0,289.83 458.0,288.39 459.0,286.91 460.0,285.40 461.0,283.87 462.0,282.30 463.0,280.72 464.0,279.11 465.0,277.49 466.0,275.86 467.0,274.23 468.0,272.60 469.0,270.98 470.0,269.37 471.0,267.79 472.0,266.24 473.0,264.72 474.0,263.25 475.0,261.84 476.0,260.47 477.0,259.18 478.0,257.94 479.0,256.79 480.0,255.70 481.0,254.70 482.0,253.77 483.0,252.93 484.0,252.17 485.0,251.49 486.0,250.88 487.0,250.36 488.0,249.91 489.0,249.53 490.0,249.21 491.0,248.96 492.0,248.78 493.0,248.65 494.0,248.57 495.0,248.54 496.0,248.56 497.0,248.62 498.0,248.73 499.0,248.87 500.0,249.05 501.0,249.27 502.0,249.52 503.0,249.80 504.0,250.12 505.0,250.46 506.0,250.83 507.0,251.24 508.0,251.67 509.0,252.13 510.0,252.61 511.0,253.11 512.0,253.64 513.0,254.19 514.0,254.76 515.0,255.34 516.0,255.94 517.0,256.56 518.0,257.19 519.0,257.83 520.0,258.48 521.0,259.13 522.0,259.80 523.0,260.48 524.0,261.16 525.0,261.86 526.0,262.56 526.9,263.28 527.9,264.01 528.9,264.76 529.9,265.53 530.9,266.32 531.9,267.13 532.9,267.96 533.9,268.83 534.9,269.72 535.9,270.64 536.9,271.59 537.9,272.58 538.9,273.59 539.9,274.64 540.9,275.72 541.9,276.82 542.9,277.94 543.9,279.09 544.9,280.25 545.9,281.43 546.9,282.61 547.9,283.80 548.9,284.99 549.9,286.17 550.9,287.35 551.9,288.51 552.9,289.65 553.9,290.78 554.9,291.88 555.9,292.96 556.9,294.01 557.9,295.04 558.9,296.03 559.9,297.00 560.9,297.94 561.9,298.86 562.9,299.74 563.9,300.60 564.9,301.44 565.9,302.25 566.9,303.05 567.9,303.82 568.9,304.58 569.9,305.31 570.9,306.04 571.9,306.75 572.9,307.44 573.9,308.12 574.9,308.80 575.9,309.46 576.9,310.11 577.9,310.74 578.9,311.37 579.9,311.99 580.9,312.60 581.9,313.20 582.9,313.78 583.9,314.36 584.9,314.92 585.9,315.47 586.9,316.01 587.9,316.53 588.9,317.04 589.9,317.54 590.9,318.02 591.9,318.49 592.9,318.94 593.9,319.37 594.9,319.79 595.9,320.20 596.9,320.59 597.9,320.96 598.9,321.31 599.9,321.65 600.9,321.97 601.8,322.28 602.8,322.57 603.8,322.85 604.8,323.10 605.8,323.35 606.8,323.58 607.8,323.80 608.8,324.00 609.8,324.19 610.8,324.36 611.8,324.53 612.8,324.68 613.8,324.82 614.8,324.95 615.8,325.07 616.8,325.18 617.8,325.29 618.8,325.38 619.8,325.47 620.8,325.55 621.8,325.62 622.8,325.68 623.8,325.74 624.8,325.80 625.8,325.84 626.8,325.89 627.8,325.93 628.8,325.96 629.8,326.00 630.8,326.02 631.8,326.05 632.8,326.07 633.8,326.09 634.8,326.11 635.8,326.13 636.8,326.14 637.8,326.16 638.8,326.17 638.8,326.25" fill="#b3b3b3"/>
<polyline points="340.2,326.22 341.2,326.21 342.2,326.20 343.2,326.20 344.2,326.18 345.2,326.17 346.2,326.16 347.2,326.14 348.2,326.12 349.2,326.10 350.2,326.07 351.2,326.04 352.2,326.01 353.2,325.97 354.2,325.92 355.2,325.87 356.2,325.81 357.2,325.75 358.2,325.68 359.2,325.60 360.2,325.51 361.2,325.41 362.2,325.30 363.2,325.19 364.2,325.06 365.2,324.92 366.2,324.77 367.2,324.61 368.2,324.44 369.2,324.26 370.2,324.07 371.2,323.87 372.2,323.65 373.2,323.43 374.2,323.20 375.2,322.96 376.2,322.72 377.2,322.47 378.1,322.21 379.1,321.96 380.1,321.70 381.1,321.44 382.1,321.18 383.1,320.93 384.1,320.68 385.1,320.45 386.1,320.22 387.1,320.00 388.1,319.79 389.1,319.59 390.1,319.41 391.1,319.25 392.1,319.10 393.1,318.98 394.1,318.86 395.1,318.77 396.1,318.69 397.1,318.64 398.1,318.59 399.1,318.57 400.1,318.56 401.1,318.56 402.1,318.57 403.1,318.60 404.1,318.63 405.1,318.67 406.1,318.71 407.1,318.75 408.1,318.80 409.1,318.84 410.1,318.87 411.1,318.89 412.1,318.91 413.1,318.91 414.1,318.89 415.1,318.86 416.1,318.81 417.1,318.74 418.1,318.64 419.1,318.52 420.1,318.37 421.1,318.20 422.1,317.99 423.1,317.76 424.1,317.49 425.1,317.20 426.1,316.87 427.1,316.51 428.1,316.11 429.1,315.69 430.1,315.23 431.1,314.73 432.1,314.20 433.1,313.64 434.1,313.05 435.1,312.42 436.1,311.76 437.1,311.06 438.1,310.33 439.1,309.57 440.1,308.77 441.1,307.94 442.1,307.07 443.1,306.17 444.1,305.24 445.1,304.27 446.1,303.27 447.1,302.23 448.1,301.16 449.1,300.04 450.1,298.90 451.1,297.71 452.1,296.49 453.0,295.23 454.0,293.94 455.0,292.61 456.0,291.24 457.0,289.83 458.0,288.39 459.0,286.91 460.0,285.40 461.0,283.87 462.0,282.30 463.0,280.72 464.0,279.11 465.0,277.49 466.0,275.86 467.0,274.23 468.0,272.60 469.0,270.98 470.0,269.37 471.0,267.79 472.0,266.24 473.0,264.72 474.0,263.25 475.0,261.84 476.0,260.47 477.0,259.18 478.0,257.94 479.0,256.79 480.0,255.70 481.0,254.70 482.0,253.77 483.0,252.93 484.0,252.17 485.0,251.49 486.0,250.88 487.0,250.36 488.0,249.91 489.0,249.53 490.0,249.21 491.0,248.96 492.0,248.78 493.0,248.65 494.0,248.57 495.0,248.54 496.0,248.56 497.0,248.62 498.0,248.73 499.0,248.87 500.0,249.05 501.0,249.27 502.0,249.52 503.0,249.80 504.0,250.12 505.0,250.46 506.0,250.83 507.0,251.24 508.0,251.67 509.0,252.13 510.0,252.61 511.0,253.11 512.0,253.64 513.0,254.19 514.0,254.76 515.0,255.34 516.0,255.94 517.0,256.56 518.0,257.19 519.0,257.83 520.0,258.48 521.0,259.13 522.0,259.80 523.0,260.48 524.0,261.16 525.0,261.86 526.0,262.56 526.9,263.28 527.9,264.01 528.9,264.76 529.9,265.53 530.9,266.32 531.9,267.13 532.9,267.96 533.9,268.83 534.9,269.72 535.9,270.64 536.9,271.59 537.9,272.58 538.9,273.59 539.9,274.64 540.9,275.72 541.9,276.82 542.9,277.94 543.9,279.09 544.9,280.25 545.9,281.43 546.9,282.61 547.9,283.80 548.9,284.99 549.9,286.17 550.9,287.35 551.9,288.51 552.9,289.65 553.9,290.78 554.9,291.88 555.9,292.96 556.9,294.01 557.9,295.04 558.9,296.03 559.9,297.00 560.9,297.94 561.9,298.86 562.9,299.74 563.9,300.60 564.9,301.44 565.9,302.25 566.9,303.05 567.9,303.82 568.9,304.58 569.9,305.31 570.9,306.04 571.9,306.75 572.9,307.44 573.9,308.12 574.9,308.80 575.9,309.46 576.9,310.11 577.9,310.74 578.9,311.37 579.9,311.99 580.9,312.60 581.9,313.20 582.9,313.78 583.9,314.36 584.9,314.92 585.9,315.47 586.9,316.01 587.9,316.53 588.9,317.04 589.9,317.54 590.9,318.02 591.9,318.49 592.9,318.94 593.9,319.37 594.9,319.79 595.9,320.20 596.9,320.59 597.9,320.96 598.9,321.31 599.9,321.65 600.9,321.97 601.8,322.28 602.8,322.57 603.8,322.85 604.8,323.10 605.8,323.35 606.8,323.58 607.8,323.80 608.8,324.00 609.8,324.19 610.8,324.36 611.8,324.53 612.8,324.68 613.8,324.82 614.8,324.95 615.8,325.07 616.8,325.18 617.8,325.29 618.8,325.38 619.8,325.47 620.8,325.55 621.8,325.62 622.8,325.68 623.8,325.74 624.8,325.80 625.8,325.84 626.8,325.89 627.8,325.93 628.8,325.96 629.8,326.00 630.8,326.02 631.8,326.05 632.8,326.07 633.8,326.09 634.8,326.11 635.8,326.13 636.8,326.14 637.8,326.16 638.8,326.17" fill="none" stroke="#000" stroke-width="1" stroke-linejoin="round" shape-rendering="crispEdges"/>
<polygon points="340.2,381.25 340.2,381.25 341.2,381.25 342.2,381.25 343.2,381.25 344.2,381.25 345.2,381.25 346.2,381.25 347.2,381.25 348.2,381.25 349.2,381.25 350.2,381.25 351.2,381.25 352.2,381.25 353.2,381.25 354.2,381.25 355.2,381.25 356.2,381.25 357.2,381.25 358.2,381.25 359.2,381.25 360.2,381.25 361.2,381.25 362.2,381.25 363.2,381.25 364.2,381.25 365.2,381.25 366.2,381.25 367.2,381.25 368.2,381.25 369.2,381.24 370.2,381.24 371.2,381.24 372.2,381.24 373.2,381.24 374.2,381.24 375.2,381.24 376.2,381.23 377.2,381.23 378.1,381.23 379.1,381.23 380.1,381.22 381.1,381.22 382.1,381.21 383.1,381.21 384.1,381.20 385.1,381.20 386.1,381.19 387.1,381.18 388.1,381.17 389.1,381.16 390.1,381.15 391.1,381.13 392.1,381.12 393.1,381.10 394.1,381.08 395.1,381.06 396.1,381.03 397.1,381.00 398.1,380.97 399.1,380.94 400.1,380.90 401.1,380.86 402.1,380.81 403.1,380.75 404.1,380.69 405.1,380.63 406.1,380.55 407.1,380.47 408.1,380.38 409.1,380.27 410.1,380.16 411.1,380.03 412.1,379.89 413.1,379.74 414.1,379.57 415.1,379.38 416.1,379.17 417.1,378.94 418.1,378.69 419.1,378.42 420.1,378.12 421.1,377.80 422.1,377.45 423.1,377.07 424.1,376.67 425.1,376.23 426.1,375.77 427.1,375.28 428.1,374.76 429.1,374.21 430.1,373.64 431.1,373.04 432.1,372.42 433.1,371.77 434.1,371.12 435.1,370.44 436.1,369.76 437.1,369.07 438.1,368.38 439.1,367.68 440.1,366.99 441.1,366.31 442.1,365.64 443.1,364.99 444.1,364.35 445.1,363.74 446.1,363.15 447.1,362.58 448.1,362.05 449.1,361.54 450.1,361.06 451.1,360.61 452.1,360.19 453.0,359.80 454.0,359.44 455.0,359.10 456.0,358.78 457.0,358.49 458.0,358.22 459.0,357.97 460.0,357.74 461.0,357.52 462.0,357.31 463.0,357.11 464.0,356.93 465.0,356.75 466.0,356.58 467.0,356.42 468.0,356.26 469.0,356.10 470.0,355.95 471.0,355.81 472.0,355.66 473.0,355.52 474.0,355.38 475.0,355.25 476.0,355.11 477.0,354.97 478.0,354.84 479.0,354.70 480.0,354.56 481.0,354.41 482.0,354.26 483.0,354.10 484.0,353.93 485.0,353.75 486.0,353.55 487.0,353.33 488.0,353.09 489.0,352.83 490.0,352.54 491.0,352.22 492.0,351.86 493.0,351.47 494.0,351.03 495.0,350.55 496.0,350.02 497.0,349.44 498.0,348.81 499.0,348.11 500.0,347.36 501.0,346.55 502.0,345.67 503.0,344.73 504.0,343.72 505.0,342.64 506.0,341.50 507.0,340.28 508.0,339.00 509.0,337.65 510.0,336.23 511.0,334.75 512.0,333.21 513.0,331.61 514.0,329.95 515.0,328.24 516.0,326.48 517.0,324.69 518.0,322.85 519.0,320.98 520.0,319.09 521.0,317.18 522.0,315.26 523.0,313.34 524.0,311.42 525.0,309.51 526.0,307.62 526.9,305.76 527.9,303.94 528.9,302.16 529.9,300.43 530.9,298.76 531.9,297.17 532.9,295.65 533.9,294.22 534.9,292.87 535.9,291.63 536.9,290.50 537.9,289.47 538.9,288.57 539.9,287.78 540.9,287.13 541.9,286.60 542.9,286.22 543.9,285.96 544.9,285.85 545.9,285.88 546.9,286.05 547.9,286.36 548.9,286.81 549.9,287.40 550.9,288.12 551.9,288.98 552.9,289.97 553.9,291.08 554.9,292.31 555.9,293.66 556.9,295.11 557.9,296.66 558.9,298.31 559.9,300.05 560.9,301.86 561.9,303.75 562.9,305.69 563.9,307.69 564.9,309.74 565.9,311.82 566.9,313.93 567.9,316.06 568.9,318.20 569.9,320.35 570.9,322.49 571.9,324.62 572.9,326.73 573.9,328.81 574.9,330.87 575.9,332.89 576.9,334.88 577.9,336.82 578.9,338.71 579.9,340.56 580.9,342.36 581.9,344.11 582.9,345.81 583.9,347.46 584.9,349.06 585.9,350.61 586.9,352.11 587.9,353.57 588.9,354.98 589.9,356.35 590.9,357.68 591.9,358.96 592.9,360.21 593.9,361.42 594.9,362.60 595.9,363.73 596.9,364.83 597.9,365.89 598.9,366.92 599.9,367.91 600.9,368.86 601.8,369.77 602.8,370.65 603.8,371.48 604.8,372.27 605.8,373.03 606.8,373.74 607.8,374.41 608.8,375.04 609.8,375.63 610.8,376.17 611.8,376.68 612.8,377.15 613.8,377.58 614.8,377.98 615.8,378.34 616.8,378.67 617.8,378.96 618.8,379.23 619.8,379.47 620.8,379.69 621.8,379.88 622.8,380.05 623.8,380.20 624.8,380.34 625.8,380.46 626.8,380.56 627.8,380.65 628.8,380.73 629.8,380.80 630.8,380.86 631.8,380.92 632.8,380.96 633.8,381.00 634.8,381.04 635.8,381.07 636.8,381.09 637.8,381.11 638.8,381.13 638.8,381.25" fill="#b3b3b3"/>
<polyline points="340.2,381.25 341.2,381.25 342.2,381.25 343.2,381.25 344.2,381.25 345.2,381.25 346.2,381.25 347.2,381.25 348.2,381.25 349.2,381.25 350.2,381.25 351.2,381.25 352.2,381.25 353.2,381.25 354.2,381.25 355.2,381.25 356.2,381.25 357.2,381.25 358.2,381.25 359.2,381.25 360.2,381.25 361.2,381.25 362.2,381.25 363.2,381.25 364.2,381.25 365.2,381.25 366.2,381.25 367.2,381.25 368.2,381.25 369.2,381.24 370.2,381.24 371.2,381.24 372.2,381.24 373.2,381.24 374.2,381.24 375.2,381.24 376.2,381.23 377.2,381.23 378.1,381.23 379.1,381.23 380.1,381.22 381.1,381.22 382.1,381.21 383.1,381.21 384.1,381.20 385.1,381.20 386.1,381.19 387.1,381.18 388.1,381.17 389.1,381.16 390.1,381.15 391.1,381.13 392.1,381.12 393.1,381.10 394.1,381.08 395.1,381.06 396.1,381.03 397.1,381.00 398.1,380.97 399.1,380.94 400.1,380.90 401.1,380.86 402.1,380.81 403.1,380.75 404.1,380.69 405.1,380.63 406.1,380.55 407.1,380.47 408.1,380.38 409.1,380.27 410.1,380.16 411.1,380.03 412.1,379.89 413.1,379.74 414.1,379.57 415.1,379.38 416.1,379.17 417.1,378.94 418.1,378.69 419.1,378.42 420.1,378.12 421.1,377.80 422.1,377.45 423.1,377.07 424.1,376.67 425.1,376.23 426.1,375.77 427.1,375.28 428.1,374.76 429.1,374.21 430.1,373.64 431.1,373.04 432.1,372.42 433.1,371.77 434.1,371.12 435.1,370.44 436.1,369.76 437.1,369.07 438.1,368.38 439.1,367.68 440.1,366.99 441.1,366.31 442.1,365.64 443.1,364.99 444.1,364.35 445.1,363.74 446.1,363.15 447.1,362.58 448.1,362.05 449.1,361.54 450.1,361.06 451.1,360.61 452.1,360.19 453.0,359.80 454.0,359.44 455.0,359.10 456.0,358.78 457.0,358.49 458.0,358.22 459.0,357.97 460.0,357.74 461.0,357.52 462.0,357.31 463.0,357.11 464.0,356.93 465.0,356.75 466.0,356.58 467.0,356.42 468.0,356.26 469.0,356.10 470.0,355.95 471.0,355.81 472.0,355.66 473.0,355.52 474.0,355.38 475.0,355.25 476.0,355.11 477.0,354.97 478.0,354.84 479.0,354.70 480.0,354.56 481.0,354.41 482.0,354.26 483.0,354.10 484.0,353.93 485.0,353.75 486.0,353.55 487.0,353.33 488.0,353.09 489.0,352.83 490.0,352.54 491.0,352.22 492.0,351.86 493.0,351.47 494.0,351.03 495.0,350.55 496.0,350.02 497.0,349.44 498.0,348.81 499.0,348.11 500.0,347.36 501.0,346.55 502.0,345.67 503.0,344.73 504.0,343.72 505.0,342.64 506.0,341.50 507.0,340.28 508.0,339.00 509.0,337.65 510.0,336.23 511.0,334.75 512.0,333.21 513.0,331.61 514.0,329.95 515.0,328.24 516.0,326.48 517.0,324.69 518.0,322.85 519.0,320.98 520.0,319.09 521.0,317.18 522.0,315.26 523.0,313.34 524.0,311.42 525.0,309.51 526.0,307.62 526.9,305.76 527.9,303.94 528.9,302.16 529.9,300.43 530.9,298.76 531.9,297.17 532.9,295.65 533.9,294.22 534.9,292.87 535.9,291.63 536.9,290.50 537.9,289.47 538.9,288.57 539.9,287.78 540.9,287.13 541.9,286.60 542.9,286.22 543.9,285.96 544.9,285.85 545.9,285.88 546.9,286.05 547.9,286.36 548.9,286.81 549.9,287.40 550.9,288.12 551.9,288.98 552.9,289.97 553.9,291.08 554.9,292.31 555.9,293.66 556.9,295.11 557.9,296.66 558.9,298.31 559.9,300.05 560.9,301.86 561.9,303.75 562.9,305.69 563.9,307.69 564.9,309.74 565.9,311.82 566.9,313.93 567.9,316.06 568.9,318.20 569.9,320.35 570.9,322.49 571.9,324.62 572.9,326.73 573.9,328.81 574.9,330.87 575.9,332.89 576.9,334.88 577.9,336.82 578.9,338.71 579.9,340.56 580.9,342.36 581.9,344.11 582.9,345.81 583.9,347.46 584.9,349.06 585.9,350.61 586.9,352.11 587.9,353.57 588.9,354.98 589.9,356.35 590.9,357.68 591.9,358.96 592.9,360.21 593.9,361.42 594.9,362.60 595.9,363.73 596.9,364.83 597.9,365.89 598.9,366.92 599.9,367.91 600.9,368.86 601.8,369.77 602.8,370.65 603.8,371.48 604.8,372.27 605.8,373.03 606.8,373.74 607.8,374.41 608.8,375.04 609.8,375.63 610.8,376.17 611.8,376.68 612.8,377.15 613.8,377.58 614.8,377.98 615.8,378.34 616.8,378.67 617.8,378.96 618.8,379.23 619.8,379.47 620.8,379.69 621.8,379.88 622.8,380.05 623.8,380.20 624.8,380.34 625.8,380.46 626.8,380.56 627.8,380.65 628.8,380.73 629.8,380.80 630.8,380.86 631.8,380.92 632.8,380.96 633.8,381.00 634.8,381.04 635.8,381.07 636.8,381.09 637.8,381.11 638.8,381.13" fill="none" stroke="#000" stroke-width="1" stroke-linejoin="round" shape-rendering="crispEdges"/>
<text y="26.30" font-size="18.67" font-weight="bold" fill="#000" font-family="Liberation Sans, sans-serif" stroke="#000" stroke-width="0.35"><tspan x="325.00" textLength="69.37" lengthAdjust="spacingAndGlyphs">Joyplot</tspan> <tspan x="400.00" textLength="17.83" lengthAdjust="spacingAndGlyphs">of</tspan> <tspan x="422.50" textLength="32.59" lengthAdjust="spacingAndGlyphs">Joy</tspan> <tspan x="461.50" textLength="89.63" lengthAdjust="spacingAndGlyphs">Division's</tspan> <tspan x="557.00" textLength="27.98" lengthAdjust="spacingAndGlyphs">joy</tspan> <tspan x="591.00" textLength="114.12" lengthAdjust="spacingAndGlyphs">distributions</tspan></text>
<text y="50.70" font-size="16" font-weight="normal" fill="#000" font-family="Liberation Sans, sans-serif" stroke="#000" stroke-width="0.35"><tspan x="325.50" textLength="45.81" lengthAdjust="spacingAndGlyphs">Based</tspan> <tspan x="375.00" textLength="18.27" lengthAdjust="spacingAndGlyphs">on</tspan> <tspan x="396.00" textLength="52.16" lengthAdjust="spacingAndGlyphs">valence</tspan> <tspan x="453.00" textLength="40.72" lengthAdjust="spacingAndGlyphs">pulled</tspan> <tspan x="498.00" textLength="31.00" lengthAdjust="spacingAndGlyphs">from</tspan> <tspan x="534.00" textLength="58.16" lengthAdjust="spacingAndGlyphs">Spotify's</tspan> <tspan x="596.00" textLength="33.03" lengthAdjust="spacingAndGlyphs">Web</tspan> <tspan x="632.50" textLength="26.68" lengthAdjust="spacingAndGlyphs">API</tspan> <tspan x="663.80" textLength="29.42" lengthAdjust="spacingAndGlyphs">with</tspan> <tspan x="697.82" textLength="53.33" lengthAdjust="spacingAndGlyphs">spotifyr</tspan></text>
<text y="162.00" font-size="16" font-weight="normal" fill="#000" font-family="Liberation Sans, sans-serif" stroke="#000" stroke-width="0.35"><tspan x="40.00" textLength="63.22" lengthAdjust="spacingAndGlyphs">Unknown</tspan> <tspan x="107.00" textLength="69.55" lengthAdjust="spacingAndGlyphs">Pleasures</tspan> <tspan x="181.00" textLength="77.48" lengthAdjust="spacingAndGlyphs">(Collector's</tspan> <tspan x="264.00" textLength="52.62" lengthAdjust="spacingAndGlyphs">Edition)</tspan></text>
<text y="217.00" font-size="16" font-weight="normal" fill="#000" font-family="Liberation Sans, sans-serif" stroke="#000" stroke-width="0.35"><tspan x="58.00" textLength="62.20" lengthAdjust="spacingAndGlyphs">Unknown</tspan> <tspan x="124.50" textLength="69.55" lengthAdjust="spacingAndGlyphs">Pleasures</tspan> <tspan x="199.50" textLength="39.91" lengthAdjust="spacingAndGlyphs">(2007</tspan> <tspan x="244.50" textLength="72.24" lengthAdjust="spacingAndGlyphs">Remaster)</tspan></text>
<text y="272.00" font-size="16" font-weight="normal" fill="#000" font-family="Liberation Sans, sans-serif" stroke="#000" stroke-width="0.35"><tspan x="180.00" textLength="63.22" lengthAdjust="spacingAndGlyphs">Unknown</tspan> <tspan x="247.00" textLength="69.55" lengthAdjust="spacingAndGlyphs">Pleasures</tspan></text>
<text y="327.00" font-size="16" font-weight="normal" fill="#000" font-family="Liberation Sans, sans-serif" stroke="#000" stroke-width="0.35"><tspan x="131.50" textLength="44.44" lengthAdjust="spacingAndGlyphs">Closer</tspan> <tspan x="181.00" textLength="77.48" lengthAdjust="spacingAndGlyphs">(Collector's</tspan> <tspan x="264.00" textLength="52.62" lengthAdjust="spacingAndGlyphs">Edition)</tspan></text>
<text y="382.00" font-size="16" font-weight="normal" fill="#000" font-family="Liberation Sans, sans-serif" stroke="#000" stroke-width="0.35"><tspan x="271.50" textLength="44.63" lengthAdjust="spacingAndGlyphs">Closer</tspan></text>
<text y="437.00" font-size="16" font-weight="normal" fill="#000" font-family="Liberation Sans, sans-serif" stroke="#000" stroke-width="0.35"><tspan x="380.50" textLength="21.46" lengthAdjust="spacingAndGlyphs">0.0</tspan></text>
<text y="437.00" font-size="16" font-weight="normal" fill="#000" font-family="Liberation Sans, sans-serif" stroke="#000" stroke-width="0.35"><tspan x="480.50" textLength="21.65" lengthAdjust="spacingAndGlyphs">0.5</tspan></text>
<text y="437.00" font-size="16" font-weight="normal" fill="#000" font-family="Liberation Sans, sans-serif" stroke="#000" stroke-width="0.35"><tspan x="580.25" textLength="21.63" lengthAdjust="spacingAndGlyphs">1.0</tspan></text>
<text y="464.70" font-size="18.67" font-weight="normal" fill="#000" font-family="Liberation Sans, sans-serif" stroke="#000" stroke-width="0.35"><tspan x="588.50" textLength="63.92" lengthAdjust="spacingAndGlyphs">valence</tspan></text>
<text transform="translate(31.00,172.60) rotate(-90) scale(1.0271,1)" font-size="18.67" font-weight="normal" fill="#000" font-family="Liberation Sans, sans-serif" stroke="#000" stroke-width="0.35">album_name</text>
</svg>
</body></html>
